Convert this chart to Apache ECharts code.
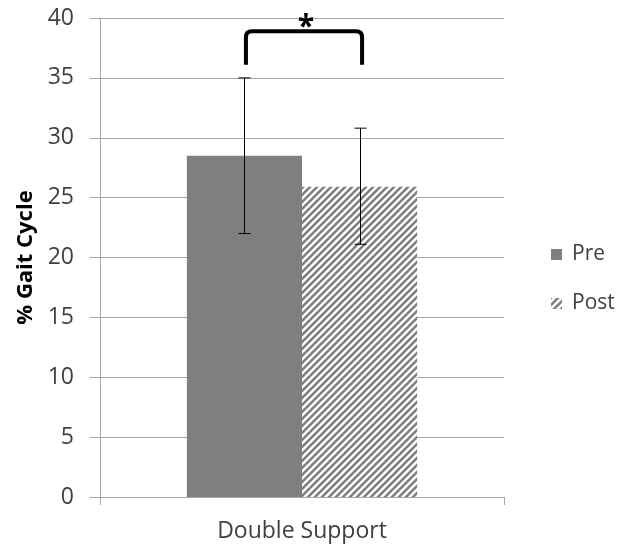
<!DOCTYPE html>
<html>
<head>
<meta charset="utf-8">
<script src="https://cdn.jsdelivr.net/npm/echarts@6/dist/echarts.min.js"></script>
<style>html,body{margin:0;padding:0;background:#fff;}#c{width:618px;height:550px;}</style>
</head>
<body>
<div id="c"></div>
<script>
// ---- data ----
const categories = ['Double Support'];
const seriesNames = ['Pre', 'Post'];
const preValues = [28.5];
const postValues = [25.9];
const preErrLow = [22.0];
const preErrHigh = [35.0];
const postErrLow = [21.1];
const postErrHigh = [30.8];
const bracketLow = 36.1;
const bracketHigh = 38.9;
const starLabel = '*';
const starValue = 40.5;
const yTicks = [0, 5, 10, 15, 20, 25, 30, 35, 40];

// hatch pattern
function makeHatch() {
  const s = 7;
  const cv = document.createElement('canvas');
  cv.width = s; cv.height = s;
  const ctx = cv.getContext('2d');
  ctx.fillStyle = '#ffffff';
  ctx.fillRect(0, 0, s, s);
  ctx.strokeStyle = '#7f7f7f';
  ctx.lineWidth = 2.6;
  ctx.beginPath();
  ctx.moveTo(-1, s + 1); ctx.lineTo(s + 1, -1);
  ctx.moveTo(-2, 2); ctx.lineTo(2, -2);
  ctx.moveTo(s - 2, s + 2); ctx.lineTo(s + 2, s - 2);
  ctx.stroke();
  return cv;
}
const hatch = { image: makeHatch(), repeat: 'repeat' };

const CAT_GAP = 0.43;
function barOffsets(api) {
  const band = api.size([1, 0])[0];
  const bw = band * (1 - CAT_GAP) / 2;
  return [-bw / 2, bw / 2];
}

const errData = categories.map((c, i) => [i, preErrLow[i], preErrHigh[i], 0])
  .concat(categories.map((c, i) => [i, postErrLow[i], postErrHigh[i], 1]));

const chart = echarts.init(document.getElementById('c'), null, { renderer: 'canvas' });
const font = '"Open Sans", sans-serif';
chart.setOption({
  animation: false,
  backgroundColor: '#ffffff',
  grid: { left: 100, right: 114, top: 18, bottom: 53, containLabel: false },
  legend: {
    data: seriesNames,
    orient: 'vertical',
    left: 546, top: 239,
    itemWidth: 11, itemHeight: 11, itemGap: 28,
    icon: 'rect',
    textStyle: { fontFamily: font, fontSize: 21, color: '#404040', padding: [0, 0, 0, 5] }
  },
  xAxis: {
    type: 'category',
    data: categories,
    axisLine: { lineStyle: { color: '#a6a6a6', width: 1 } },
    axisTick: { show: true, length: 8, lineStyle: { color: '#a6a6a6' } },
    axisLabel: { fontFamily: font, fontSize: 23, color: '#404040', margin: 23 }
  },
  yAxis: {
    type: 'value',
    min: yTicks[0], max: yTicks[yTicks.length - 1], interval: yTicks[1] - yTicks[0],
    name: '% Gait Cycle',
    nameLocation: 'middle',
    nameGap: 62,
    nameRotate: 90,
    nameTextStyle: { fontFamily: font, fontSize: 22, fontWeight: 'bold', color: '#000' },
    axisLine: { show: true, lineStyle: { color: '#a6a6a6', width: 1 } },
    axisTick: { show: true, length: 10, lineStyle: { color: '#a6a6a6' } },
    axisLabel: { fontFamily: font, fontSize: 23, color: '#404040', margin: 26 },
    splitLine: { lineStyle: { color: '#a6a6a6', width: 1 } }
  },
  series: [
    {
      name: seriesNames[0], type: 'bar', data: preValues,
      barGap: '0%', barCategoryGap: (CAT_GAP * 100) + '%',
      itemStyle: { color: '#7f7f7f' }
    },
    {
      name: seriesNames[1], type: 'bar', data: postValues,
      barGap: '0%', barCategoryGap: (CAT_GAP * 100) + '%',
      itemStyle: { color: hatch }
    },
    {
      type: 'custom', name: 'err', z: 5, silent: true,
      data: errData,
      encode: { x: 0, y: [1, 2] },
      renderItem: function (params, api) {
        const off = barOffsets(api)[api.value(3)];
        const lo = api.coord([api.value(0), api.value(1)]);
        const hi = api.coord([api.value(0), api.value(2)]);
        const x = Math.round(lo[0] + off) + 0.5;
        const cap = 6;
        const st = { stroke: '#000', lineWidth: 1 };
        return {
          type: 'group', children: [
            { type: 'line', shape: { x1: x, y1: lo[1], x2: x, y2: hi[1] }, style: st },
            { type: 'line', shape: { x1: x - cap, y1: lo[1], x2: x + cap, y2: lo[1] }, style: st },
            { type: 'line', shape: { x1: x - cap, y1: hi[1], x2: x + cap, y2: hi[1] }, style: st }
          ]
        };
      }
    },
    {
      type: 'custom', name: 'bracket', z: 6, silent: true,
      data: [[0, bracketLow, bracketHigh, starValue]],
      encode: { x: 0, y: [1, 2] },
      renderItem: function (params, api) {
        const offs = barOffsets(api);
        const b = api.coord([api.value(0), api.value(1)]);
        const t = api.coord([api.value(0), api.value(2)]);
        const s = api.coord([api.value(0), api.value(3)]);
        const l = b[0] + offs[0] + 1.5, r = b[0] + offs[1] + 2.5;
        const rr = 6;
        const path = 'M' + l + ',' + b[1] + ' L' + l + ',' + (t[1] + rr) +
          ' Q' + l + ',' + t[1] + ' ' + (l + rr) + ',' + t[1] +
          ' L' + (r - rr) + ',' + t[1] +
          ' Q' + r + ',' + t[1] + ' ' + r + ',' + (t[1] + rr) +
          ' L' + r + ',' + b[1];
        return {
          type: 'group', children: [
            { type: 'path', shape: { pathData: path }, style: { stroke: '#000', lineWidth: 4, fill: null, lineJoin: 'round' } },
            { type: 'text', x: (l + r) / 2 + 2, y: s[1], style: { text: starLabel, fontFamily: font, fontSize: 30, fontWeight: 'bold', fill: '#000', align: 'center', verticalAlign: 'top' } }
          ]
        };
      }
    }
  ]
});
</script>
</body>
</html>
